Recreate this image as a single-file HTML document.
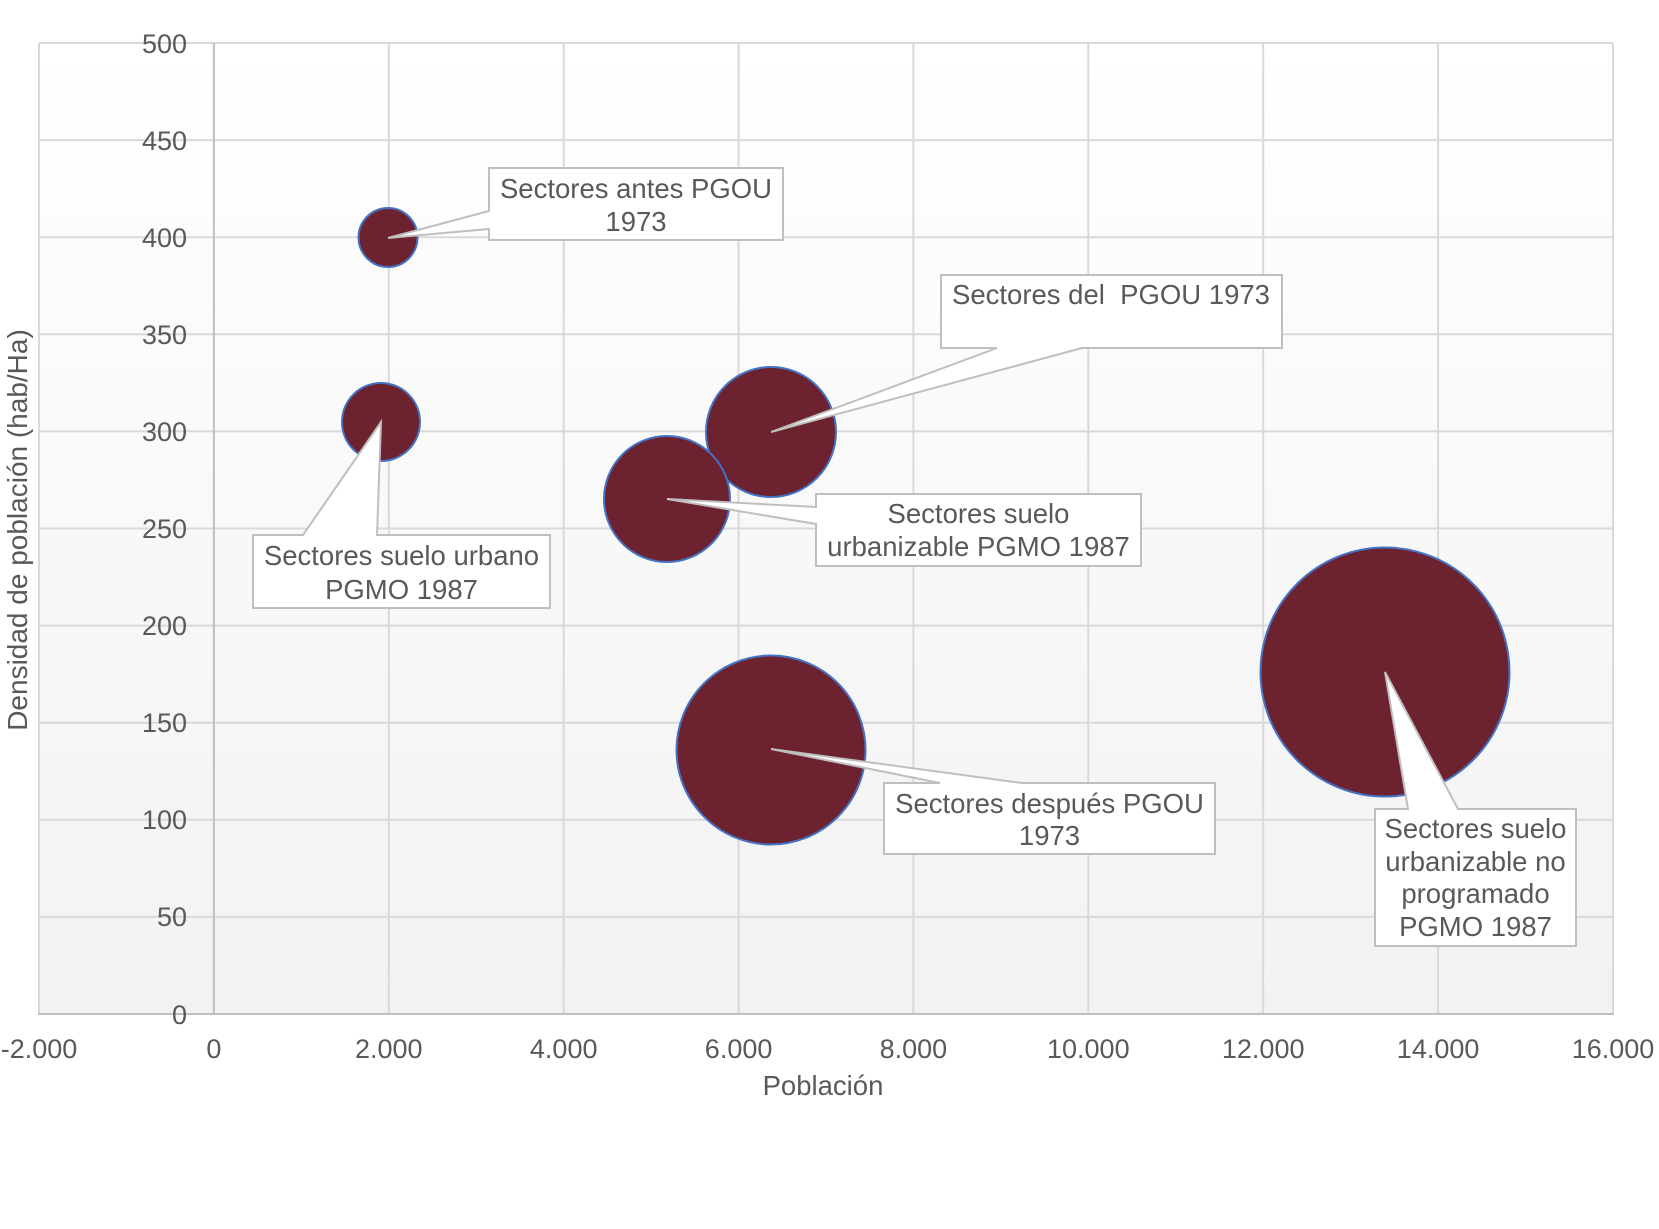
<!DOCTYPE html>
<html>
<head>
<meta charset="utf-8">
<style>
  html, body { margin: 0; padding: 0; background: #ffffff; }
  svg { display: block; }
  text { font-family: "Liberation Sans", Arial, sans-serif; fill: #595959; }
</style>
</head>
<body>
<svg width="1659" height="1229" viewBox="0 0 1659 1229" xmlns="http://www.w3.org/2000/svg">
  <defs>
    <linearGradient id="bg" x1="0" y1="0" x2="0" y2="1">
      <stop offset="0" stop-color="#ffffff"/>
      <stop offset="1" stop-color="#f2f2f2"/>
    </linearGradient>
  </defs>

  <!-- plot area -->
  <rect x="39" y="43" width="1574" height="971" fill="url(#bg)"/>

  <!-- horizontal gridlines -->
  <g stroke="#d9d9d9" stroke-width="2">
    <line x1="39" y1="43" x2="1613" y2="43"/>
    <line x1="39" y1="140.1" x2="1613" y2="140.1"/>
    <line x1="39" y1="237.2" x2="1613" y2="237.2"/>
    <line x1="39" y1="334.3" x2="1613" y2="334.3"/>
    <line x1="39" y1="431.4" x2="1613" y2="431.4"/>
    <line x1="39" y1="528.5" x2="1613" y2="528.5"/>
    <line x1="39" y1="625.6" x2="1613" y2="625.6"/>
    <line x1="39" y1="722.7" x2="1613" y2="722.7"/>
    <line x1="39" y1="819.8" x2="1613" y2="819.8"/>
    <line x1="39" y1="916.9" x2="1613" y2="916.9"/>
    <!-- vertical gridlines -->
    <line x1="39" y1="43" x2="39" y2="1014"/>
    <line x1="388.8" y1="43" x2="388.8" y2="1014"/>
    <line x1="563.7" y1="43" x2="563.7" y2="1014"/>
    <line x1="738.6" y1="43" x2="738.6" y2="1014"/>
    <line x1="913.4" y1="43" x2="913.4" y2="1014"/>
    <line x1="1088.3" y1="43" x2="1088.3" y2="1014"/>
    <line x1="1263.2" y1="43" x2="1263.2" y2="1014"/>
    <line x1="1438.1" y1="43" x2="1438.1" y2="1014"/>
    <line x1="1613" y1="43" x2="1613" y2="1014"/>
  </g>
  <!-- axes -->
  <g stroke="#bfbfbf" stroke-width="2">
    <line x1="213.9" y1="43" x2="213.9" y2="1014"/>
    <line x1="38" y1="1014" x2="1614" y2="1014"/>
  </g>

  <!-- bubbles -->
  <g fill="#6d2230" stroke="#4472c4" stroke-width="2">
    <circle cx="1385" cy="672" r="124.5"/>
    <circle cx="771" cy="750" r="94.5"/>
    <circle cx="771" cy="432" r="65"/>
    <circle cx="667" cy="499" r="63"/>
    <circle cx="381" cy="422" r="39"/>
    <circle cx="388" cy="237.5" r="29.5"/>
  </g>

  <!-- callouts -->
  <g fill="#ffffff" stroke="#bfbfbf" stroke-width="2" stroke-linejoin="miter">
    <path d="M489,168 L783,168 L783,240 L489,240 L489,229 L388,238 L489,211 Z"/>
    <path d="M253,535 L303,535 L381,422 L377,535 L550,535 L550,608 L253,608 Z"/>
    <path d="M941,275 L1282,275 L1282,348 L1082,348 L771,432 L997,348 L941,348 Z"/>
    <path d="M816,494 L1141,494 L1141,566 L816,566 L816,524 L667,499 L816,507 Z"/>
    <path d="M884,783 L940,783 L771,749 L1022,783 L1215,783 L1215,854 L884,854 Z"/>
    <path d="M1375,809 L1408,809 L1385,672 L1458,809 L1576,809 L1576,946 L1375,946 Z"/>
  </g>

  <g font-size="27.5" text-anchor="middle">
    <text x="636" y="198">Sectores antes PGOU</text>
    <text x="636" y="231">1973</text>
    <text x="401.5" y="565">Sectores suelo urbano</text>
    <text x="401.5" y="599">PGMO 1987</text>
    <text x="1111" y="304">Sectores del&#160; PGOU 1973</text>
    <text x="978.5" y="523">Sectores suelo</text>
    <text x="978.5" y="556">urbanizable PGMO 1987</text>
    <text x="1049.5" y="813">Sectores después PGOU</text>
    <text x="1049.5" y="845">1973</text>
    <text x="1475.5" y="838">Sectores suelo</text>
    <text x="1475.5" y="871">urbanizable no</text>
    <text x="1475.5" y="903">programado</text>
    <text x="1475.5" y="936">PGMO 1987</text>
  </g>

  <!-- y tick labels -->
  <g font-size="27" text-anchor="end">
    <text x="187" y="53">500</text>
    <text x="187" y="150">450</text>
    <text x="187" y="247">400</text>
    <text x="187" y="344">350</text>
    <text x="187" y="441">300</text>
    <text x="187" y="538">250</text>
    <text x="187" y="635">200</text>
    <text x="187" y="732">150</text>
    <text x="187" y="829">100</text>
    <text x="187" y="926">50</text>
    <text x="187" y="1024">0</text>
  </g>

  <!-- x tick labels -->
  <g font-size="27" text-anchor="middle">
    <text x="39" y="1058">-2.000</text>
    <text x="213.9" y="1058">0</text>
    <text x="388.8" y="1058">2.000</text>
    <text x="563.7" y="1058">4.000</text>
    <text x="738.6" y="1058">6.000</text>
    <text x="913.4" y="1058">8.000</text>
    <text x="1088.3" y="1058">10.000</text>
    <text x="1263.2" y="1058">12.000</text>
    <text x="1438.1" y="1058">14.000</text>
    <text x="1613" y="1058">16.000</text>
  </g>

  <!-- axis titles -->
  <text x="823" y="1095" font-size="27.5" text-anchor="middle">Población</text>
  <text transform="translate(27,530) rotate(-90)" font-size="28" text-anchor="middle">Densidad de población (hab/Ha)</text>
</svg>
</body>
</html>
